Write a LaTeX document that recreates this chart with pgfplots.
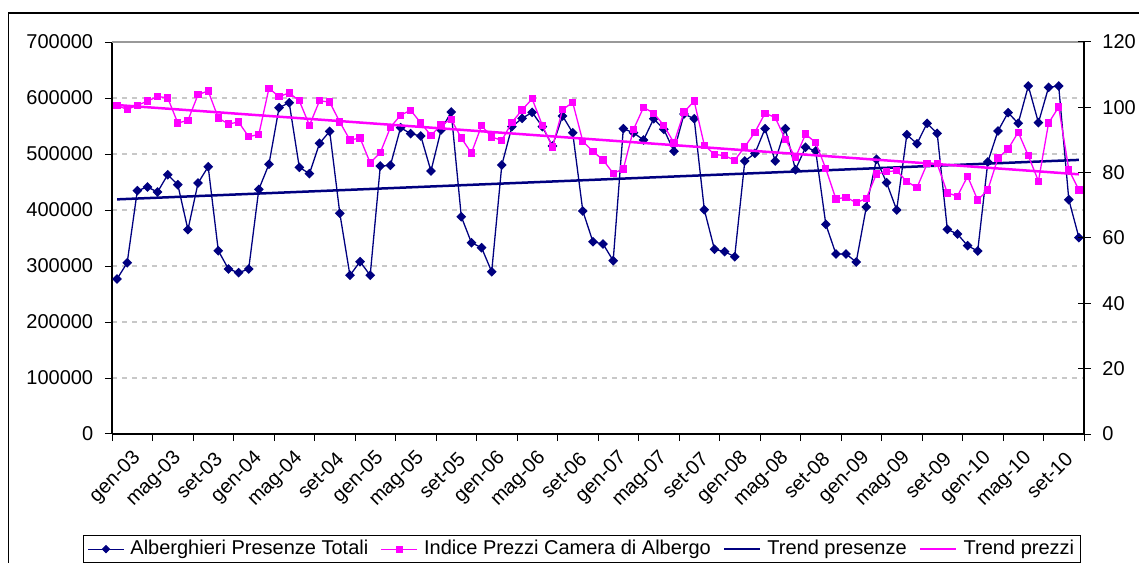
\documentclass[border=0pt]{standalone}
\usepackage{pgfplots}
\pgfplotsset{compat=1.18}
\usepackage{pgfplotstable}
\usepackage{fontspec}
\setmainfont{Liberation Sans}
\definecolor{navy}{RGB}{0,0,128}
\definecolor{mag}{RGB}{255,0,255}
\definecolor{gridgray}{RGB}{200,200,200}
\newcommand{\chartfont}{\fontsize{20bp}{24bp}\selectfont}

\pgfplotstableread{
i v
0 276800
1 305900
2 434500
3 441000
4 432100
5 463000
6 445200
7 364900
8 448200
9 477300
10 327300
11 294600
12 288100
13 294600
14 436900
15 481600
16 582700
17 591600
18 476200
19 464900
20 519100
21 540500
22 394100
23 283400
24 307700
25 283400
26 478600
27 479800
28 547000
29 536300
30 532100
31 469600
32 542900
33 575000
34 388000
35 341600
36 332700
37 289800
38 480400
39 548800
40 563700
41 574400
42 548800
43 514300
44 567900
45 538000
46 398200
47 343300
48 339300
49 309500
50 545200
51 538000
52 525000
53 563000
54 544100
55 504800
56 571400
57 563000
58 400500
59 329800
60 325600
61 316600
62 487500
63 501200
64 545200
65 487500
66 545200
67 472000
68 512000
69 505400
70 374400
71 321400
72 321400
73 307100
74 405400
75 490500
76 448800
77 400000
78 534500
79 518400
80 554800
81 536900
82 365500
83 357100
84 336300
85 326800
86 485700
87 541100
88 573800
89 554800
90 621400
91 556000
92 619100
93 621400
94 418400
95 350600
}\presenze

\pgfplotstableread{
i p
0 100.5
1 99.4
2 100.6
3 101.9
4 103.3
5 102.9
6 95.2
7 96.0
8 103.9
9 105.0
10 96.7
11 94.9
12 95.5
13 91.0
14 91.7
15 105.8
16 103.3
17 104.4
18 102.0
19 94.5
20 102.0
21 101.6
22 95.5
23 90.0
24 90.6
25 83.0
26 86.1
27 93.9
28 97.6
29 99.1
30 95.2
31 91.4
32 94.6
33 96.3
34 90.6
35 86.0
36 94.4
37 90.9
38 89.9
39 95.4
40 99.2
41 102.6
42 94.5
43 87.9
44 99.3
45 101.5
46 89.6
47 86.5
48 83.9
49 79.8
50 81.1
51 93.2
52 100.0
53 98.2
54 94.5
55 89.1
56 98.6
57 101.9
58 88.4
59 85.6
60 85.2
61 83.8
62 87.9
63 92.4
64 98.2
65 96.9
66 90.2
67 84.6
68 91.8
69 89.2
70 81.2
71 71.9
72 72.5
73 70.8
74 72.1
75 79.6
76 80.3
77 80.6
78 77.3
79 75.4
80 82.7
81 82.7
82 73.8
83 72.8
84 78.9
85 71.6
86 74.7
87 84.5
88 87.2
89 92.4
90 85.2
91 77.4
92 95.2
93 100.1
94 80.9
95 74.7
}\prezzi

\begin{document}
\chartfont
\begin{tikzpicture}
\begin{axis}[
  at={(112bp,129bp)}, anchor=south west,
  scale only axis, width=972bp, height=392bp,
  xmin=-0.5, xmax=95.5, ymin=0, ymax=700000,
  axis y line*=left, axis x line*=bottom,
  axis line style={black, line width=1.2bp},
  tick align=outside, major tick length=7bp, minor tick length=7bp,
  tick style={black, line width=1bp},
  xtick={0,4,...,92},
  xticklabels={gen-03,mag-03,set-03,gen-04,mag-04,set-04,gen-05,mag-05,set-05,gen-06,mag-06,set-06,gen-07,mag-07,set-07,gen-08,mag-08,set-08,gen-09,mag-09,set-09,gen-10,mag-10,set-10},
  major x tick style={draw=none},
  minor xtick={-0.5,3.5,...,95.5},
  xticklabel style={xshift=22bp, yshift=-13bp, rotate=45, anchor=east, font=\chartfont, inner sep=2bp},
  ytick={0,100000,...,600000},
  extra y ticks={700000},
  extra y tick style={grid style={solid, gray!80, line width=1.2bp}},
  scaled y ticks=false,
  yticklabel style={font=\chartfont, /pgf/number format/fixed, /pgf/number format/1000 sep={}, /pgf/number format/assume math mode=true, xshift=-5bp},
  ymajorgrids,
  grid style={gridgray, line width=1.2bp, dash pattern=on 5bp off 5bp},
]
\addplot[navy, line width=1.3bp, mark=square*, mark size=2.8bp, mark options={rotate=45, solid, fill=navy}] table[x=i,y=v]{\presenze};
\addplot[navy, line width=2.5bp] coordinates {(0,419000) (95,489500)};
\end{axis}
\begin{axis}[
  at={(112bp,129bp)}, anchor=south west,
  scale only axis, width=972bp, height=392bp,
  xmin=-0.5, xmax=95.5, ymin=0, ymax=120,
  axis x line=none, axis y line*=right,
  axis line style={black, line width=1.2bp},
  tick align=center, major tick length=13bp,
  tick style={black, line width=1bp},
  ytick={0,20,...,120},
  yticklabel style={font=\chartfont, /pgf/number format/assume math mode=true, xshift=5bp},
  legend columns=4,
  legend style={at={(-0.0298,-0.2577)}, anchor=north west, draw=black, line width=0.8bp,
    font=\chartfont, inner xsep=4bp, inner ysep=3bp,
    /tikz/every odd column/.append style={column sep=4bp},
    /tikz/every even column/.append style={column sep=10.5bp}},
  legend image code/.code={\draw[mark repeat=2,mark phase=2] plot coordinates {(0bp,0bp) (18bp,0bp) (36bp,0bp)};},
]
\addlegendimage{navy, line width=1bp, mark=square*, mark size=2.5bp, mark options={rotate=45, solid, fill=navy}}
\addlegendentry{Alberghieri Presenze Totali}
\addplot[mag, line width=1.3bp, mark=square*, mark size=3bp, mark options={solid, fill=mag}] table[x=i,y=p]{\prezzi};
\addlegendentry{Indice Prezzi Camera di Albergo}
\addlegendimage{navy, line width=2bp}
\addlegendentry{Trend presenze}
\addplot[mag, line width=2.5bp] coordinates {(0,100.7) (95,79.5)};
\addlegendentry{Trend prezzi}
\end{axis}
\draw[black, line width=1.2bp] (8.7bp,-10bp) -- (8.7bp,550bp) -- (1150bp,550bp);
\pgfresetboundingbox
\useasboundingbox (0bp,0bp) rectangle (1139bp,563bp);
\end{tikzpicture}
\end{document}
